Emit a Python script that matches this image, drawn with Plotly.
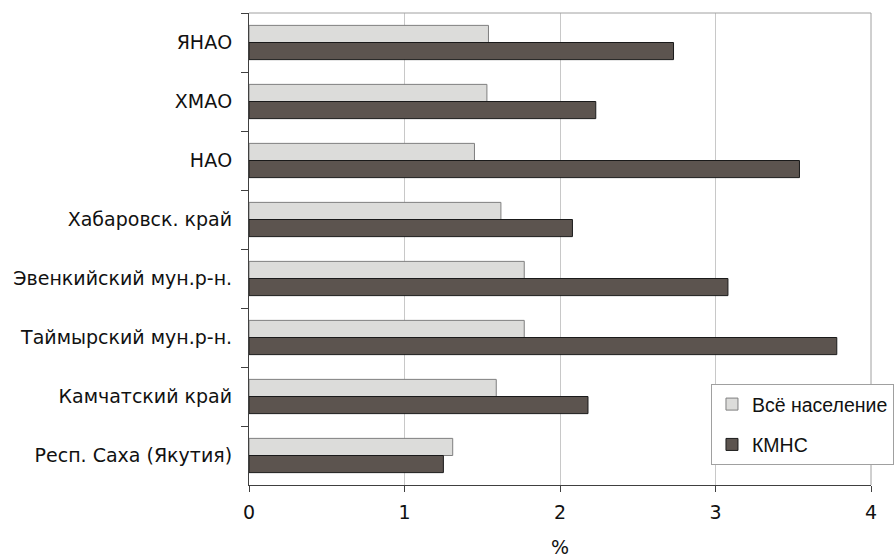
import plotly.graph_objects as go

categories = ["ЯНАО", "ХМАО", "НАО", "Хабаровск. край", "Эвенкийский мун.р-н.",
              "Таймырский мун.р-н.", "Камчатский край", "Респ. Саха (Якутия)"]
all_population = [1.54, 1.53, 1.45, 1.62, 1.77, 1.77, 1.59, 1.31]
kmns = [2.73, 2.23, 3.54, 2.08, 3.08, 3.78, 2.18, 1.25]
series_names = ["Всё население", "КМНС"]
x_ticks = [0, 1, 2, 3, 4]

FONT = "DejaVu Sans, Liberation Sans, Arial, sans-serif"
LFONT = "Liberation Sans, Arial, sans-serif"
FS = 19

fig = go.Figure()
fig.add_trace(go.Bar(
    y=categories, x=all_population, orientation="h", name=series_names[0],
    legendgroup="a",
    marker=dict(color="#DCDCDA", line=dict(color="#7F7F7F", width=1)),
))
fig.add_trace(go.Bar(
    y=categories, x=kmns, orientation="h", name=series_names[1],
    legendgroup="b",
    marker=dict(color="#5C544F", line=dict(color="#1A1A1A", width=1)),
))

fig.update_layout(
    width=896, height=558,
    margin=dict(l=249, r=25, t=13, b=73, autoexpand=False),
    paper_bgcolor="white", plot_bgcolor="white",
    barmode="group", bargap=0.42, bargroupgap=0,
    font=dict(family=FONT, size=FS, color="#111111"),
    showlegend=True,
    legend=dict(
        xref="container", yref="container",
        x=0.7935, y=0.312, xanchor="left", yanchor="top",
        bgcolor="white", bordercolor="#A0A0A0", borderwidth=1,
        font=dict(family=LFONT, size=19.5, color="#111111"),
        itemwidth=30, traceorder="grouped", tracegroupgap=12,
    ),
)
fig.update_xaxes(
    range=[0, 4], tickvals=x_ticks, ticktext=[str(v) for v in x_ticks],
    showgrid=True, gridcolor="#C8C8C8", gridwidth=1,
    showline=True, linecolor="#404040", linewidth=1,
    ticks="outside", ticklen=6, tickcolor="#404040",
    mirror=False, zeroline=False, ticklabelstandoff=4,
    title=dict(text="%", font=dict(family=FONT, size=FS), standoff=20),
    tickfont=dict(size=FS),
)
fig.update_yaxes(
    autorange="reversed", type="category",
    showline=True, linecolor="#404040", linewidth=1,
    ticks="outside", ticklen=7, tickcolor="#404040", tickson="boundaries",
    showgrid=False, zeroline=False, ticksuffix="  ",
    tickfont=dict(size=FS),
)
fig.add_shape(type="line", xref="paper", yref="paper", x0=0, x1=1, y0=1, y1=1,
              line=dict(color="#A0A0A0", width=1))
fig.add_shape(type="line", xref="paper", yref="paper", x0=1, x1=1, y0=0, y1=1,
              line=dict(color="#A0A0A0", width=1))

fig.write_html(
    "out.html",
    config={"displayModeBar": False},
    post_script="document.body.style.margin='0';document.body.style.overflow='hidden';",
)
